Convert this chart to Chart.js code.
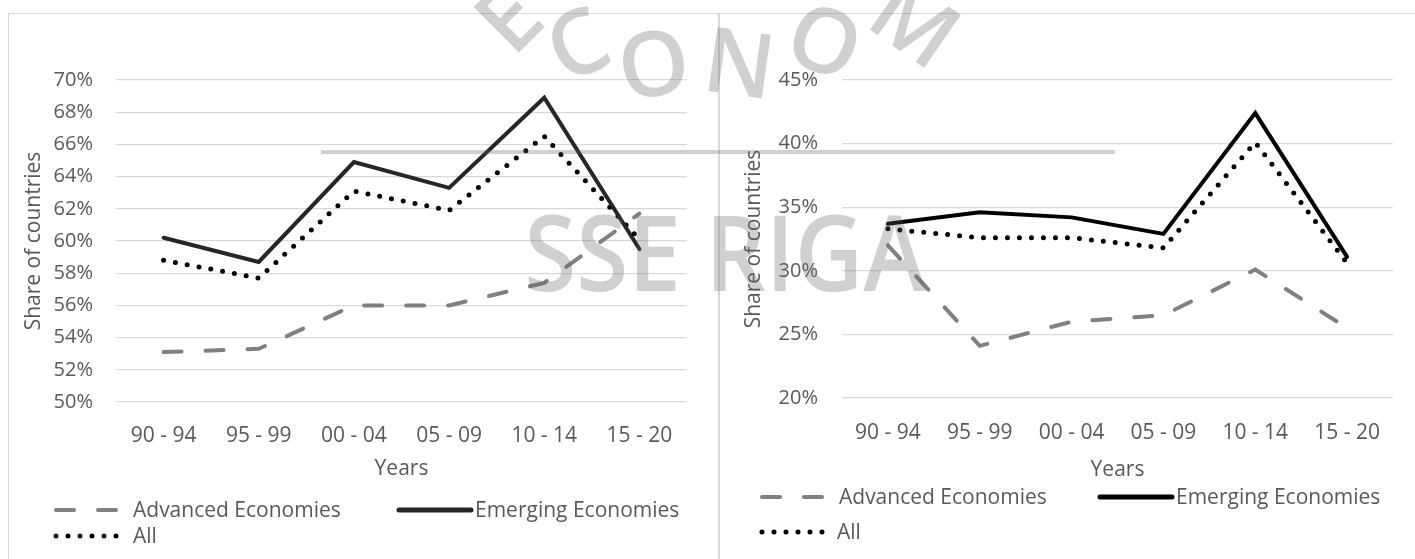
<!DOCTYPE html>
<html>
<head>
<meta charset="utf-8">
<title>Share of countries</title>
<script src="https://cdn.jsdelivr.net/npm/chart.js@4.4.1/dist/chart.umd.min.js"></script>
<style>
  body { margin: 0; background: #fff; }
  #page { position: relative; width: 1415px; height: 559px; overflow: hidden; font-family: "Open Sans", sans-serif; }
  .panel { position: absolute; top: 13px; height: 545px; border-top: 1px solid #d9d9d9; border-left: 1px solid #d9d9d9; }
  #leftPanel { left: 8px; width: 709px; }
  #rightPanel { left: 718px; width: 695px; border-left-width: 2px; }
  .panel canvas { display: block; }
  .wm { position: absolute; color: rgba(100, 100, 100, 0.3); font-family: "Open Sans", sans-serif; font-weight: 600; line-height: 1; white-space: nowrap; pointer-events: none; transform-origin: center center; }
  .bar { position: absolute; left: 321px; top: 150px; width: 794px; height: 4px; background: rgba(100, 100, 100, 0.3); }
</style>
</head>
<body>
<div id="page">
  <div class="panel" id="leftPanel"><canvas id="leftChart" width="709" height="545"></canvas></div>
  <div class="panel" id="rightPanel"><canvas id="rightChart" width="695" height="545"></canvas></div>

  <!-- faint logo stamp over both panels -->
  <div class="bar"></div>
  <div class="wm" style="left:506px;top:16px;font-size:90px;transform:translate(-50%,-50%) rotate(-45deg)">E</div>
  <div class="wm" style="left:576px;top:41px;font-size:90px;transform:translate(-50%,-50%) rotate(-25deg)">C</div>
  <div class="wm" style="left:653px;top:61px;font-size:90px;transform:translate(-50%,-50%) rotate(-10deg)">O</div>
  <div class="wm" style="left:740px;top:60px;font-size:90px;transform:translate(-50%,-50%) rotate(8deg)">N</div>
  <div class="wm" style="left:826px;top:38px;font-size:90px;transform:translate(-50%,-50%) rotate(22deg)">O</div>
  <div class="wm" style="left:917px;top:20px;font-size:90px;transform:translate(-50%,-50%) rotate(35deg)">M</div>
  <div class="wm" style="left:725px;top:250px;font-size:105px;transform:translate(-50%,-50%) scaleX(0.9)">SSE RIGA</div>
</div>

<script>
// Periods on the x axis
const periods = ['90 - 94', '95 - 99', '00 - 04', '05 - 09', '10 - 14', '15 - 20'];

// Left panel, share of countries (%)
const advancedLeft = [53.1, 53.3, 56.0, 56.0, 57.4, 61.7];
const emergingLeft = [60.2, 58.7, 64.9, 63.3, 68.9, 59.5];
const allLeft = [58.8, 57.7, 63.1, 61.9, 66.5, 60.1];

// Right panel, share of countries (%)
const advancedRight = [32.0, 24.1, 26.0, 26.5, 30.1, 25.5];
const emergingRight = [33.7, 34.6, 34.2, 32.9, 42.4, 31.1];
const allRight = [33.3, 32.6, 32.6, 31.8, 40.1, 30.6];

const TEXT = '#595959';
const FONT = '"Open Sans", sans-serif';

// draws the line samples + names under each chart
const lineLegend = {
  id: 'lineLegend',
  afterDraw(chart, args, opts) {
    const ctx = chart.ctx;
    ctx.save();
    ctx.font = opts.fontSize + 'px ' + FONT;
    ctx.fillStyle = TEXT;
    ctx.textBaseline = 'middle';
    opts.items.forEach(item => {
      const ds = chart.data.datasets[item.index];
      ctx.beginPath();
      ctx.setLineDash(ds.borderDash || []);
      ctx.lineCap = ds.borderCapStyle || 'butt';
      ctx.lineWidth = item.lw || ds.borderWidth;
      ctx.strokeStyle = ds.borderColor;
      ctx.moveTo(item.x, item.y);
      ctx.lineTo(item.x + item.w, item.y);
      ctx.stroke();
      ctx.setLineDash([]);
      ctx.fillText(ds.label, item.textX, item.y + 1);
    });
    ctx.restore();
  }
};

function makeChart(canvasId, series, cfg) {
  const datasets = [
    {
      label: 'Advanced Economies',
      data: series.advanced,
      borderColor: '#808080',
      borderWidth: 4,
      borderDash: [18, 24],
      borderCapStyle: 'round'
    },
    {
      label: 'Emerging Economies',
      data: series.emerging,
      borderColor: cfg.solidColor,
      borderWidth: 4,
      borderCapStyle: 'round'
    },
    {
      label: 'All',
      data: series.all,
      borderColor: '#000',
      borderWidth: 5,
      borderDash: [0, 12],
      borderCapStyle: 'round'
    }
  ];
  datasets.forEach(d => { d.fill = false; d.tension = 0; d.pointRadius = 0; d.borderJoinStyle = 'miter'; });

  return new Chart(document.getElementById(canvasId).getContext('2d'), {
    type: 'line',
    data: { labels: periods, datasets: datasets },
    options: {
      responsive: false,
      animation: false,
      layout: { padding: cfg.padding },
      plugins: {
        legend: { display: false },
        tooltip: { enabled: false },
        lineLegend: { fontSize: 21, items: cfg.legend }
      },
      scales: {
        x: {
          offset: true,
          grid: { display: false },
          border: { display: false },
          ticks: { color: TEXT, font: { family: FONT, size: 21 }, padding: cfg.xTickPad, maxRotation: 0 },
          title: { display: true, text: 'Years', color: TEXT, font: { family: FONT, size: 21 }, padding: { top: 4, bottom: cfg.xTitlePad } },
          afterFit: s => { s.height = cfg.xHeight; }
        },
        y: {
          min: cfg.yMin,
          max: cfg.yMax,
          grid: { color: '#d9d9d9', lineWidth: 1.3, drawTicks: false },
          border: { display: false },
          ticks: {
            stepSize: cfg.step,
            color: TEXT,
            font: { family: FONT, size: 20 },
            padding: cfg.yTickPad,
            callback: v => v + '%'
          },
          title: { display: true, text: 'Share of countries', color: TEXT, font: { family: FONT, size: 21 }, padding: { top: 4, bottom: 4 } },
          afterFit: s => { s.width = cfg.yWidth; }
        }
      }
    },
    plugins: [lineLegend]
  });
}

const leftChart = makeChart('leftChart',
  { advanced: advancedLeft, emerging: emergingLeft, all: allLeft },
  {
    yMin: 50, yMax: 70, step: 2,
    solidColor: '#262626',
    padding: { top: 66, left: 8, right: 31, bottom: 69 },
    yWidth: 99, yTickPad: 23,
    xHeight: 88, xTickPad: 13, xTitlePad: 8,
    legend: [
      { index: 0, x: 47, y: 496, w: 66, textX: 124 },
      { index: 1, x: 390, y: 496, w: 72, textX: 466, lw: 5 },
      { index: 2, x: 47, y: 522, w: 66, textX: 124 }
    ]
  });

const rightChart = makeChart('rightChart',
  { advanced: advancedRight, emerging: emergingRight, all: allRight },
  {
    yMin: 20, yMax: 45, step: 5,
    solidColor: '#000',
    padding: { top: 66, left: 17, right: 22, bottom: 69 },
    yWidth: 105, yTickPad: 24,
    xHeight: 92, xTickPad: 14, xTitlePad: 7,
    legend: [
      { index: 0, x: 42, y: 483, w: 62, textX: 119 },
      { index: 1, x: 380, y: 483, w: 72, textX: 456, lw: 5 },
      { index: 2, x: 42, y: 518, w: 64, textX: 117 }
    ]
  });
</script>
</body>
</html>
